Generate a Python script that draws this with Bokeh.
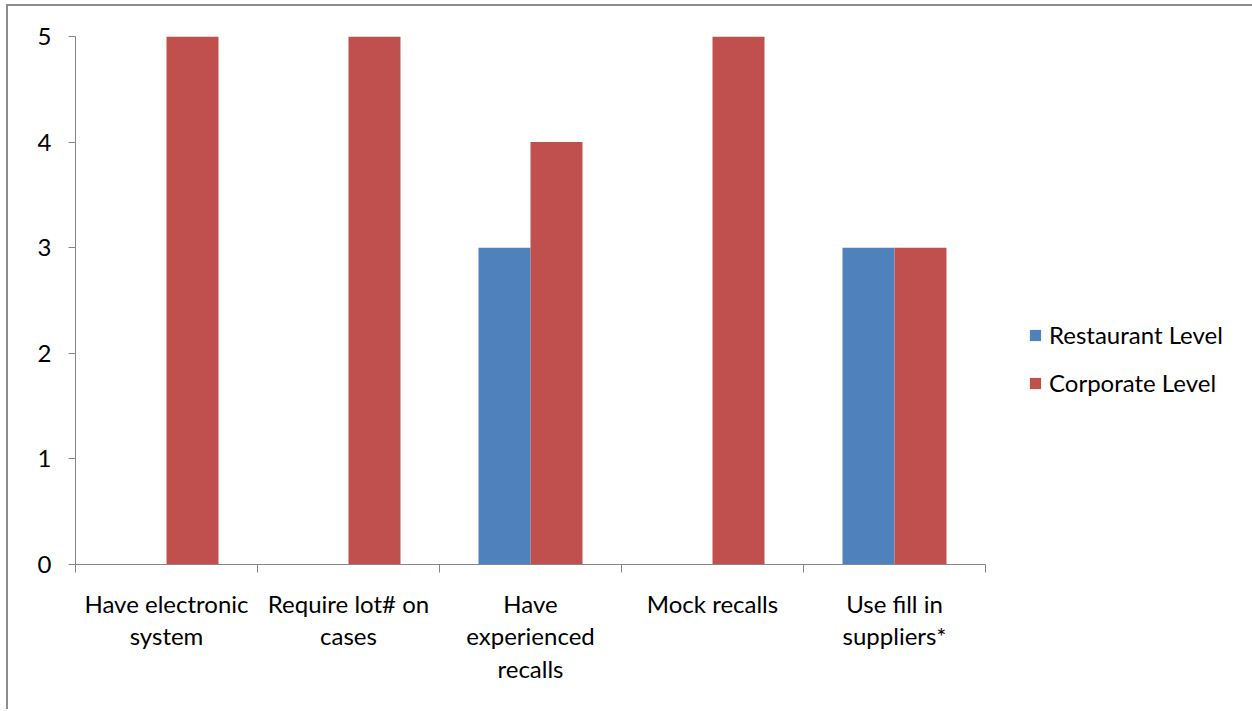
import numpy as np
from bokeh.plotting import figure
from bokeh.models import FixedTicker, Legend, LegendItem, ColumnDataSource, Range1d
from bokeh.transform import dodge
from bokeh.embed import file_html
from bokeh.resources import INLINE

categories = ["Have electronic system", "Require lot# on cases", "Have experienced recalls",
              "Mock recalls", "Use fill in suppliers*"]
category_labels = ["Have electronic\nsystem", "Require lot# on\ncases", "Have\nexperienced\nrecalls",
                   "Mock recalls", "Use fill in\nsuppliers*"]
series_names = ["Restaurant Level", "Corporate Level"]
restaurant = [0, 0, 3, 0, 3]
corporate = [5, 5, 4, 5, 3]
y_ticks = [0, 1, 2, 3, 4, 5]
colors = ["#4F81BD", "#C0504D"]

FONT = "Lato"
AXIS_COLOR = "#868686"

n = len(categories)
centers = [i + 0.5 for i in range(n)]
boundaries = list(range(n + 1))

CANVAS_W, CANVAS_H = 1252, 705
LEFT, TOP, RIGHT, BOTTOM = 67, 30, 2, 147
FRAME_W = CANVAS_W - LEFT - RIGHT
PLOT_W = 910  # width of the category area in px; the rest of the frame holds the legend

src = ColumnDataSource(dict(x=centers, restaurant=restaurant, corporate=corporate))

p = figure(width=CANVAS_W, height=CANVAS_H, output_backend="svg", toolbar_location=None,
           x_range=Range1d(0, n * FRAME_W / PLOT_W), y_range=Range1d(0, 5),
           min_border_left=LEFT, min_border_top=TOP, min_border_right=RIGHT, min_border_bottom=BOTTOM)
p.styles = {"box-shadow": "-2px -2px 0px 0px #8c8c8c",
            "margin-left": "8px", "margin-top": "6px"}

bw = 0.2857
r1 = p.vbar(x=dodge("x", -bw / 2), top="restaurant", width=bw, source=src,
            fill_color=colors[0], line_color=None)
r2 = p.vbar(x=dodge("x", bw / 2), top="corporate", width=bw, source=src,
            fill_color=colors[1], line_color=None)

p.xgrid.grid_line_color = None
p.ygrid.grid_line_color = None
p.outline_line_color = None
p.background_fill_color = "white"
p.border_fill_color = "white"

xa = p.xaxis[0]
xa.bounds = (0, n)
xa.ticker = FixedTicker(ticks=centers, minor_ticks=boundaries)
xa.major_label_overrides = {c: l for c, l in zip(centers, category_labels)}
xa.major_tick_out = 0
xa.major_tick_in = 0
xa.minor_tick_out = 8
xa.minor_tick_in = 0
xa.minor_tick_line_color = AXIS_COLOR
xa.axis_line_color = AXIS_COLOR
xa.major_label_text_font = FONT
xa.major_label_text_font_size = "24px"
xa.major_label_text_color = "black"
xa.major_label_text_line_height = 1.13
xa.major_label_standoff = 16

ya = p.yaxis[0]
ya.ticker = FixedTicker(ticks=y_ticks)
ya.major_tick_out = 7
ya.major_tick_in = 0
ya.minor_tick_line_color = None
ya.major_tick_line_color = AXIS_COLOR
ya.axis_line_color = AXIS_COLOR
ya.major_label_text_font = FONT
ya.major_label_text_font_size = "24px"
ya.major_label_text_color = "black"
ya.major_label_standoff = 17

legend = Legend(items=[LegendItem(label=series_names[0], renderers=[r1]),
                       LegendItem(label=series_names[1], renderers=[r2])],
                location=(953, 167), orientation="vertical")
legend.glyph_width = 14
legend.glyph_height = 14
legend.label_height = 24
legend.spacing = 19
legend.padding = 0
legend.margin = 0
legend.label_standoff = 7
legend.border_line_color = None
legend.background_fill_alpha = 0
legend.label_text_font = FONT
legend.label_text_font_size = "24px"
legend.label_text_color = "black"
p.add_layout(legend, "center")

open("out.html", "w").write(file_html(p, INLINE))
